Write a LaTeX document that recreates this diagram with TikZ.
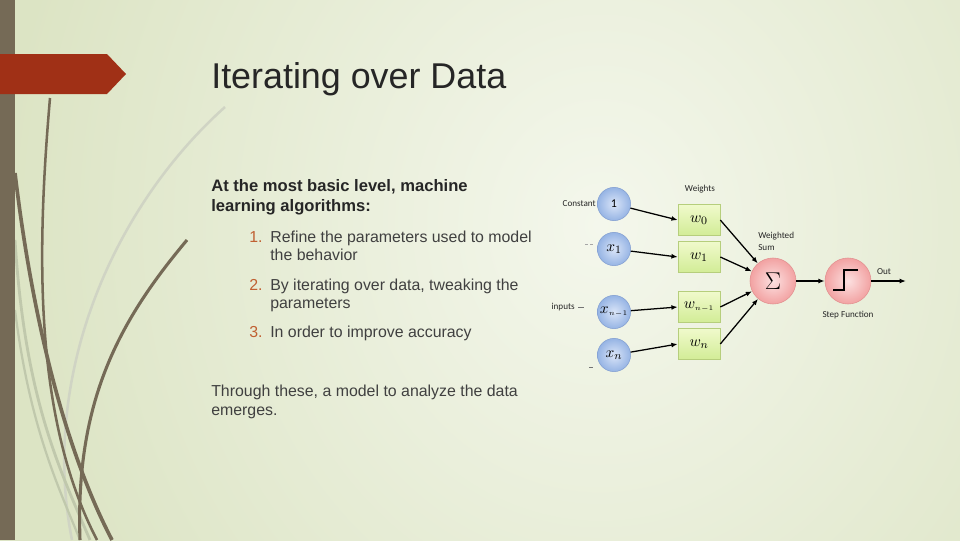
\documentclass[tikz,border=0pt]{standalone}
\usepackage{fontspec}
\setmainfont{Liberation Sans}
\newfontfamily\lblfont{Carlito}
\usetikzlibrary{arrows.meta}

\definecolor{bgdark}{RGB}{220,228,196}
\definecolor{bglight}{RGB}{244,247,236}
\definecolor{barcol}{RGB}{117,106,86}
\definecolor{bannercol}{RGB}{160,48,22}
\definecolor{numcol}{RGB}{192,96,50}
\definecolor{txtcol}{RGB}{64,64,64}
\definecolor{titlecol}{RGB}{38,38,38}
\definecolor{grasspale}{RGB}{208,212,196}
\definecolor{grassmid}{RGB}{192,200,172}
\definecolor{inpin}{RGB}{218,229,248}
\definecolor{inpout}{RGB}{150,180,228}
\definecolor{inpedge}{RGB}{132,160,210}
\definecolor{wtop}{RGB}{240,250,204}
\definecolor{wbot}{RGB}{210,236,150}
\definecolor{wedge}{RGB}{182,206,124}
\definecolor{sumin}{RGB}{252,224,224}
\definecolor{sumout}{RGB}{242,162,162}
\definecolor{sumedge}{RGB}{226,144,144}

\tikzset{
  inputnode/.style={circle, draw=inpedge, inner color=inpin, outer color=inpout,
    minimum size=0.83cm, inner sep=0pt, font=\fontsize{11}{12}\selectfont},
  weightbox/.style={rectangle, draw=wedge, top color=wtop, bottom color=wbot,
    minimum width=1.05cm, minimum height=0.78cm, inner sep=0pt, font=\fontsize{11}{12}\selectfont},
  sumnode/.style={circle, draw=sumedge, inner color=sumin, outer color=sumout,
    minimum size=1.15cm, inner sep=0pt},
  lbl/.style={font=\lblfont\fontsize{6.5}{8.5}\selectfont, text=black!85, inner sep=0pt},
  link/.style={-{Latex[length=4.5pt,width=3.5pt]}, line width=0.9pt},
  bodytext/.style={anchor=base west, align=left, inner sep=0pt, text=txtcol,
    font=\fontsize{11.3}{12.8}\selectfont},
}

\begin{document}
\begin{tikzpicture}[x=0.025cm, y=-0.025cm]
  \useasboundingbox (0,0) rectangle (960,540);
  \fill[bgdark] (0,0) rectangle (960,540);
  \begin{scope}
    \clip (0,0) rectangle (960,540);
    \shade[inner color=bglight, outer color=bgdark] (0,-450) rectangle (1200,900);
    \draw[grasspale, line width=1.8pt] (225,107) .. controls (110,210) and (40,380) .. (72,540);
    \draw[grassmid, line width=2pt] (15,240) .. controls (25,400) and (60,470) .. (90,540);
    \draw[grassmid, line width=1.6pt] (15,310) .. controls (30,430) and (60,490) .. (80,540);
    \draw[barcol, line width=1.8pt] (50,98) .. controls (36,260) and (35,420) .. (97,540);
    \draw[barcol, line width=2.6pt] (15,173) .. controls (30,300) and (60,440) .. (112,540);
    \draw[barcol, line width=2.2pt] (187,240) .. controls (120,320) and (75,400) .. (80,540);
  \end{scope}
  \fill[barcol] (0,0) rectangle (15,540);
  \fill[bannercol] (0,54) -- (107,54) -- (126,74) -- (107,94) -- (0,94) -- cycle;

  \node[anchor=base west, inner sep=0pt, text=titlecol, font=\fontsize{25.5}{30}\selectfont]
    (title) at (211,88) {Iterating over Data};
  \node[bodytext, text=titlecol, font=\bfseries\fontsize{11.8}{14.2}\selectfont]
    (intro) at (211,211) {At the most basic level, machine\\learning algorithms:};
  \foreach \n/\y/\l/\t in {1/242/260/{Refine the parameters used to model\\the behavior},
                           2/290/308/{By iterating over data, tweaking the\\parameters},
                           3/337/337/{In order to improve accuracy}}
    {
      \node[bodytext, text=numcol] (num\n) at (249,\y) {\n.};
      \node[bodytext] (item\n) at (270,\l) {\t};
    }
  \node[bodytext, font=\fontsize{11.3}{13}\selectfont] (outro) at (211,415)
    {Through these, a model to analyze the data\\emerges.};

  \foreach \i/\y/\t in {0/204/{\lblfont\fontsize{8.5}{9}\selectfont 1}, 1/249/{$x_1$},
                        2/312/{$x_{\scriptscriptstyle n-1}$}, 3/355/{$x_n$}}
    \node[inputnode] (c\i) at (614,\y) {\t};
  \foreach \i/\y/\t in {0/220/{$w_0$}, 1/257/{$w_1$},
                        2/307/{$w_{\scriptscriptstyle n-1}$}, 3/344/{$w_n$}}
    \node[weightbox] (w\i) at (699,\y) {\t};
  \node[sumnode, font=\fontsize{17}{17}\selectfont] (sum) at (773,281) {$\Sigma$};
  \node[sumnode] (step) at (848,281) {};
  \coordinate (out) at (906,281);
  \foreach \i in {0,...,3}
    {
      \draw[link] (c\i) -- (w\i.west);
      \draw[link] (w\i.east) -- (sum);
    }
  \draw[link] (sum) -- (step);
  \draw[link] (step) -- (out);
  \draw[line width=1.8pt] ([shift={(-15,9)}]step.center) -- ++(11,0) -- ++(0,-20) -- ++(14,0);

  \node[lbl, anchor=east] (constlbl) at (596,204) {Constant};
  \node[lbl, anchor=east] (inplbl) at (575,307) {inputs};
  \node[lbl] (wlbl) at (700,189) {Weights};
  \node[lbl, align=left, anchor=north west] (wslbl) at (758,232) {Weighted\\Sum};
  \node[lbl, anchor=south] (outlbl) at (884,275) {Out};
  \node[lbl] (steplbl) at (848,315) {Step Function};
  \draw[black!55, line width=0.6pt] (578,307) -- (584,307);
  \draw[black!35, line width=0.6pt] (585,244) -- (588,244) (590,244) -- (593,244);
  \draw[black!55, line width=0.6pt] (589,367) -- (593,367);
\end{tikzpicture}
\end{document}
